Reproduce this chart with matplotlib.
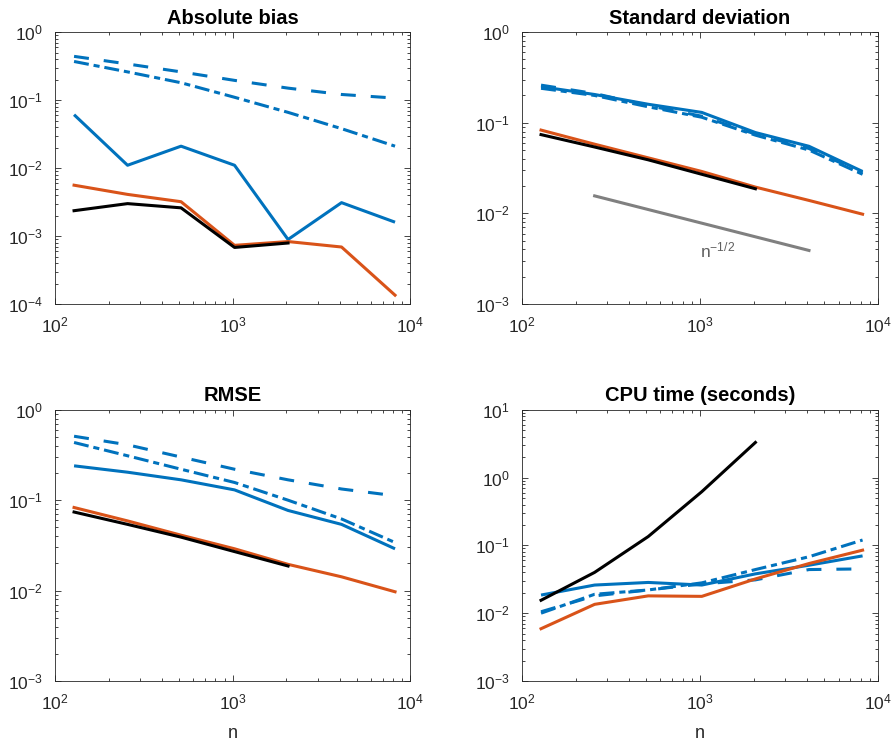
import numpy as np
import matplotlib
matplotlib.use("Agg")
import matplotlib.pyplot as plt
from matplotlib.ticker import LogLocator, FuncFormatter, NullFormatter

plt.rcParams['font.family'] = ['Liberation Sans', 'DejaVu Sans']
plt.rcParams['mathtext.fontset'] = 'custom'
plt.rcParams['mathtext.rm'] = 'Liberation Sans'
plt.rcParams['mathtext.it'] = 'Liberation Sans'
plt.rcParams['mathtext.default'] = 'regular'

n = [128, 256, 512, 1024, 2048, 4096, 8192]
n_black = [128, 256, 512, 1024, 2048]

# Absolute bias
bias_solid = [0.061, 0.011, 0.021, 0.011, 0.00089, 0.0031, 0.0016]
bias_dashed = [0.44, 0.34, 0.26, 0.195, 0.15, 0.121, 0.107]
bias_dashdot = [0.37, 0.26, 0.18, 0.11, 0.066, 0.038, 0.021]
bias_orange = [0.0056, 0.0041, 0.0032, 0.00073, 0.00083, 0.00069, 0.000135]
bias_black = [0.00236, 0.0030, 0.0026, 0.00068, 0.00079]

# Standard deviation
sd_solid = [0.25, 0.205, 0.16, 0.13, 0.078, 0.055, 0.029]
sd_dashed = [0.26, 0.21, 0.155, 0.118, 0.075, 0.052, 0.028]
sd_dashdot = [0.24, 0.20, 0.15, 0.115, 0.073, 0.050, 0.027]
sd_orange = [0.083, 0.058, 0.041, 0.029, 0.0195, 0.0139, 0.0098]
sd_black = [0.074, 0.054, 0.039, 0.027, 0.0187]
ref_n = [256, 4096]
ref_vals = [0.0156, 0.0039]
ref_label = r'$n^{-1/2}$'

# RMSE
rmse_solid = [0.24, 0.204, 0.168, 0.13, 0.077, 0.054, 0.029]
rmse_dashed = [0.51, 0.41, 0.30, 0.22, 0.168, 0.133, 0.112]
rmse_dashdot = [0.435, 0.31, 0.22, 0.157, 0.10, 0.062, 0.034]
rmse_orange = [0.083, 0.059, 0.041, 0.029, 0.0195, 0.0142, 0.0097]
rmse_black = [0.074, 0.054, 0.039, 0.027, 0.0187]

# CPU time
cpu_solid = [0.0185, 0.026, 0.0284, 0.026, 0.038, 0.051, 0.070]
cpu_dashed = [0.0105, 0.018, 0.022, 0.027, 0.031, 0.044, 0.045]
cpu_dashdot = [0.0100, 0.019, 0.022, 0.028, 0.044, 0.068, 0.12]
cpu_orange = [0.0059, 0.0135, 0.018, 0.0177, 0.032, 0.054, 0.085]
cpu_black = [0.0155, 0.040, 0.135, 0.62, 3.3]

titles = ['Absolute bias', 'Standard deviation', 'RMSE', 'CPU time (seconds)']
ylims = [(1e-4, 1e0), (1e-3, 1e0), (1e-3, 1e0), (1e-3, 1e1)]

BLUE = '#0072BD'
ORANGE = '#D95319'
LW = 2.2
DASH = (4.9, 4.9)
DASHDOT = (4.9, 1.6, 2.0, 1.6)

fig = plt.figure(figsize=(8.93, 7.47), dpi=100)
positions = [
    [0.0616, 0.593, 0.398, 0.364],
    [0.5845, 0.593, 0.3987, 0.364],
    [0.0616, 0.0884, 0.398, 0.363],
    [0.5845, 0.0884, 0.3987, 0.363],
]
data = [
    (bias_solid, bias_dashed, bias_dashdot, bias_orange, bias_black),
    (sd_solid, sd_dashed, sd_dashdot, sd_orange, sd_black),
    (rmse_solid, rmse_dashed, rmse_dashdot, rmse_orange, rmse_black),
    (cpu_solid, cpu_dashed, cpu_dashdot, cpu_orange, cpu_black),
]

def fmt(v, pos):
    e = int(round(np.log10(v)))
    return r'$10^{%d}$' % e

for i, pos in enumerate(positions):
    ax = fig.add_axes(pos)
    s, d, dd, o, b = data[i]
    ax.plot(n, s, color=BLUE, lw=LW, solid_capstyle='butt')
    ax.plot(n, d, color=BLUE, lw=LW, dashes=DASH)
    ax.plot(n, dd, color=BLUE, lw=LW, dashes=DASHDOT)
    ax.plot(n, o, color=ORANGE, lw=LW)
    ax.plot(n_black, b, color='black', lw=LW)
    if i == 1:
        ax.plot(ref_n, ref_vals, color='#808080', lw=LW)
        ax.text(1000, 0.00324, ref_label, color='#606060', fontsize=12.5,
                ha='left', va='baseline')
    ax.set_xscale('log')
    ax.set_yscale('log')
    ax.set_xlim(1e2, 1e4)
    ax.set_ylim(*ylims[i])
    ax.set_title(titles[i], fontsize=14.5, fontweight='bold', pad=6)
    for axis in (ax.xaxis, ax.yaxis):
        axis.set_major_locator(LogLocator(base=10, numticks=20))
        axis.set_minor_locator(LogLocator(base=10, subs=np.arange(2, 10), numticks=20))
        axis.set_major_formatter(FuncFormatter(fmt))
        axis.set_minor_formatter(NullFormatter())
    ax.tick_params(which='both', direction='in', top=True, right=True,
                   colors='#262626', labelcolor='#262626', labelsize=12.5, width=0.6)
    ax.tick_params(which='major', length=4.5)
    ax.tick_params(which='minor', length=2.5)
    ax.tick_params(axis='x', which='major', pad=8.5)
    ax.tick_params(axis='y', which='major', pad=9)
    for sp in ax.spines.values():
        sp.set_color('#262626')
        sp.set_linewidth(0.6)
    if i >= 2:
        ax.set_xlabel('n', fontsize=13, color='#262626', labelpad=9)

fig.savefig('out.png', dpi=100)
